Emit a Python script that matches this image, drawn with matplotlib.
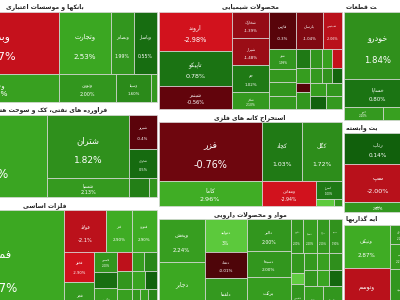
import numpy as np
import matplotlib.pyplot as plt
import matplotlib.colors as mcolors
from matplotlib.patches import Rectangle

# ---- data: per industry, symbol names, daily change (%) and market cap ----
bank_names = ['وبملت', 'وتجارت', 'وبصادر', 'وپاسار', 'وخاور', 'ونوین', 'وسینا', 'وکار']
bank_pct = ['-2.47', '2.53', '1.99', '0.55', '2.31', '2.00', '1.60', '2.10']
bank_cap = [80.5, 33.3, 14.7, 14.7, 35.6, 16.0, 9.8, 1.7]
bank_tree = ('v', [('h', [0, 1, 2, 3]), ('h', [4, 5, 6, 7])])

oil_names = ['شپنا', 'شتران', 'شسپا', 'شبریز', 'شاوان', 'شبهرن', 'شرانل']
oil_pct = ['2.45', '1.82', '2.13', '-0.4', '0.5', '1.2', '2.00']
oil_cap = [98.0, 53.3, 16.4, 9.8, 8.4, 4.0, 1.6]
oil_tree = ('h', [0, ('v', [1, 2]), ('v', [3, 4, ('h', [5, 6])])])

metal_names = ['فملی', 'فولاد', 'فنر', 'فنورد', 'فخوز', 'فجر', 'فاسمین', 'فخاس',
               'فگستر', 'فسپا', 'فسرب', 'فلوله', 'فروی', 'فپنتا', 'فجام', 'فکمند',
               'فاراک', 'فرآور', 'فالوم']
metal_pct = ['2.57', '-2.1', '2.90', '2.90', '-2.90', '2.10', '2.00', '0.60', '2.20',
             '-2.20', '2.00', '2.30', '2.20', '1.50', '2.40', '0.20', '2.10', '2.30', '1.50']
metal_cap = [143.0, 17.2, 10.7, 10.3, 9.0, 11.1, 4.6, 3.7, 7.1, 2.9, 2.7, 4.5,
             2.3, 2.45, 2.4, 2.1, 2.5, 2.5, 2.5]
metal_tree = ('h', [0, ('v', [('h', [1, 2, 3]),
                              ('h', [('v', [4, 5]), ('v', [6, 7, 8]), ('v', [9, 10, 11]),
                                     ('v', [('h', [12, 13]), ('h', [14, 15]), ('h', [16, 17, 18])])])])])

chem_names = ['اروند', 'تاپیکو', 'شبندر', 'شخارک', 'شیراز', 'جم', 'شکلر', 'فارس',
              'پارسان', 'شپدیس', 'شفن', 'شفارس', 'شکربن', 'شاراک', 'شغدیر', 'شصفها',
              'شلعاب', 'شسینا', 'شگل', 'شنفت', 'شملی', 'شاملا', 'شوینده', 'شپاکسا',
              'شجم', 'شرنگی', 'شبصیر', 'شدوص']
chem_pct = ['-2.98', '0.78', '-0.56', '-1.39', '-1.48', '1.02', '2.10', '-0.3',
            '-1.04', '-2.06', '1.99', '2.07', '2.00', '2.10', '1.00', '2.20',
            '2.00', '2.10', '2.30', '1.90', '-2.50', '0.30', '-0.20', '2.00',
            '2.20', '2.00', '0.20', '2.10']
chem_cap = [28.7, 26.6, 17.3, 10.0, 10.3, 10.3, 6.6, 10.0, 10.0, 7.0, 5.5, 3.7, 3.7, 3.7,
            2.7, 2.0, 2.3, 1.75, 1.95, 1.45, 1.95, 1.45, 1.35, 2.4, 2.15, 2.15, 2.15, 2.15]
chem_tree = ('h', [('v', [0, 1, 2]), ('v', [3, 4, 5, 6]),
                   ('v', [('h', [7, 8, 9]),
                          ('h', [('v', [10, 11, 12, 13]),
                                 ('v', [('h', [('v', [14, 15]), ('v', [16, 17]), ('v', [18, 19]), ('v', [20, 21])]),
                                        ('h', [('v', [22, 23]), ('v', [('h', [24, 25]), ('h', [26, 27])])])])])])])

mine_names = ['فزر', 'کچاد', 'کگل', 'کاما', 'ومعادن', 'کسرام', 'کمنگنز', 'کرماشا']
mine_pct = ['-0.76', '1.03', '1.72', '2.96', '-2.94', '1.00', '3.20', '2.00']
mine_cap = [62.4, 24.6, 24.0, 27.0, 14.3, 4.7, 1.4, 0.6]
mine_tree = ('v', [('h', [0, 1, 2]), ('h', [3, 4, ('v', [5, ('h', [6, 7])])])])

drug_names = ['وپخش', 'دجابر', 'دتولید', 'دتماد', 'دلقما', 'دالبر', 'دسبحا', 'برکت',
              'دکوثر', 'دسینا', 'دفارا', 'دعبید', 'دلر', 'دکپسول', 'دشیمی', 'دارو',
              'دکیمی', 'دزهراوی', 'دامین', 'دپارس', 'دتهران', 'دفرا', 'داسوه']
drug_pct = ['2.24', '2.58', '3', '-0.01', '2.10', '2.00', '2.00', '2.20', '2.00', '2.20',
            '2.10', '1.90', '2.05', '3.50', '2.00', '2.10', '2.30', '1.80', '2.00',
            '2.40', '0.40', '2.20', '2.00']
drug_cap = [19.8, 26.5, 14.1, 11.0, 17.6, 14.2, 11.6, 18.5, 4.3, 4.6, 4.3, 4.3, 2.7, 1.5,
            4.8, 2.1, 2.1, 2.1, 2.1, 2.1, 2.1, 6.2, 6.2]
drug_tree = ('h', [('v', [0, 1]), ('v', [2, 3, 4]), ('v', [5, 6, 7]),
                   ('v', [('h', [8, 9, 10, 11]),
                          ('h', [('v', [12, 13, 14]),
                                 ('v', [('h', [15, 16, 17]), ('h', [18, 19, 20]), ('h', [21, 22])])])])])

auto_names = ['خودرو', 'خساپا', 'ختور', 'خکمک']
auto_pct = ['1.84', '0.80', '2.10', '2.30']
auto_cap = [46.9, 19.6, 5.2, 3.9]
auto_tree = ('v', [0, 1, ('h', [2, 3])])

it_names = ['رتاپ', 'سپ', 'رانفور']
it_pct = ['0.14', '-2.00', '2.00']
it_cap = [22.4, 28.0, 7.0]
it_tree = ('v', [0, 1, 2])

inv_names = ['ونیکی', 'وتوسم', 'وصندوق', 'وسپه', 'وامید']
inv_pct = ['2.87', '-2.04', '2.10', '2.20', '2.00']
inv_cap = [20.7, 24.4, 4.6, 5.75, 11.7]
inv_tree = ('h', [('v', [0, 1]), ('v', [2, 3, 4])])

columns = [
    [('بانکها و موسسات اعتباری', bank_names, bank_pct, bank_cap, bank_tree),
     ('فراورده های نفتی، کک و سوخت هسته‌ای', oil_names, oil_pct, oil_cap, oil_tree),
     ('فلزات اساسی', metal_names, metal_pct, metal_cap, metal_tree)],
    [('محصولات شیمیایی', chem_names, chem_pct, chem_cap, chem_tree),
     ('استخراج کانه های فلزی', mine_names, mine_pct, mine_cap, mine_tree),
     ('مواد و محصولات دارویی', drug_names, drug_pct, drug_cap, drug_tree)],
    [('خودرو و ساخت قطعات', auto_names, auto_pct, auto_cap, auto_tree),
     ('رایانه و فعالیت وابسته', it_names, it_pct, it_cap, it_tree),
     ('سرمایه گذاریها', inv_names, inv_pct, inv_cap, inv_tree)],
]

# ---- persian shaping (matplotlib has no bidi / contextual forms) ----
FORMS = {
    'ا': ('\uFE8D', '\uFE8E', None, None), 'آ': ('\uFE81', '\uFE82', None, None),
    'ب': ('\uFE8F', '\uFE90', '\uFE91', '\uFE92'), 'پ': ('\uFB56', '\uFB57', '\uFB58', '\uFB59'),
    'ت': ('\uFE95', '\uFE96', '\uFE97', '\uFE98'), 'ث': ('\uFE99', '\uFE9A', '\uFE9B', '\uFE9C'),
    'ج': ('\uFE9D', '\uFE9E', '\uFE9F', '\uFEA0'), 'چ': ('\uFB7A', '\uFB7B', '\uFB7C', '\uFB7D'),
    'ح': ('\uFEA1', '\uFEA2', '\uFEA3', '\uFEA4'), 'خ': ('\uFEA5', '\uFEA6', '\uFEA7', '\uFEA8'),
    'د': ('\uFEA9', '\uFEAA', None, None), 'ذ': ('\uFEAB', '\uFEAC', None, None),
    'ر': ('\uFEAD', '\uFEAE', None, None), 'ز': ('\uFEAF', '\uFEB0', None, None),
    'ژ': ('\uFB8A', '\uFB8B', None, None),
    'س': ('\uFEB1', '\uFEB2', '\uFEB3', '\uFEB4'), 'ش': ('\uFEB5', '\uFEB6', '\uFEB7', '\uFEB8'),
    'ص': ('\uFEB9', '\uFEBA', '\uFEBB', '\uFEBC'), 'ض': ('\uFEBD', '\uFEBE', '\uFEBF', '\uFEC0'),
    'ط': ('\uFEC1', '\uFEC2', '\uFEC3', '\uFEC4'), 'ظ': ('\uFEC5', '\uFEC6', '\uFEC7', '\uFEC8'),
    'ع': ('\uFEC9', '\uFECA', '\uFECB', '\uFECC'), 'غ': ('\uFECD', '\uFECE', '\uFECF', '\uFED0'),
    'ف': ('\uFED1', '\uFED2', '\uFED3', '\uFED4'), 'ق': ('\uFED5', '\uFED6', '\uFED7', '\uFED8'),
    'ک': ('\uFB8E', '\uFB8F', '\uFB90', '\uFB91'), 'گ': ('\uFB92', '\uFB93', '\uFB94', '\uFB95'),
    'ل': ('\uFEDD', '\uFEDE', '\uFEDF', '\uFEE0'), 'م': ('\uFEE1', '\uFEE2', '\uFEE3', '\uFEE4'),
    'ن': ('\uFEE5', '\uFEE6', '\uFEE7', '\uFEE8'), 'و': ('\uFEED', '\uFEEE', None, None),
    'ه': ('\uFEE9', '\uFEEA', '\uFEEB', '\uFEEC'), 'ی': ('\uFBFC', '\uFBFD', '\uFBFE', '\uFBFF'),
}


def shape(s):
    out = []
    i = 0
    while i < len(s):
        c = s[i]
        if c not in FORMS:
            if c != '\u200c':
                out.append(c)
            i += 1
            continue
        prev = s[i - 1] if i > 0 else None
        pj = prev in FORMS and FORMS[prev][2] is not None
        if c == 'ل' and i + 1 < len(s) and s[i + 1] in 'اآ':
            out.append('\uFEFC' if pj else '\uFEFB')
            i += 2
            continue
        nxt = s[i + 1] if i + 1 < len(s) else None
        nj = nxt in FORMS and FORMS[c][2] is not None
        iso, fin, ini, med = FORMS[c]
        out.append(med if pj and nj else fin if pj else ini if nj else iso)
        i += 1
    return ''.join(reversed(out))


neg_p = [-3.0, -2.0, -1.2, -0.5, 0.0]
neg_c = ['#d3121d', '#b8111b', '#8a0b14', '#5e030b', '#4e0509']
pos_p = [0.0, 0.8, 1.8, 2.5, 2.99, 3.0, 5.0]
pos_c = ['#0f5c0b', '#1b7413', '#2f8f1c', '#3ba722', '#40ad25', '#5cc93c', '#6ad34a']


def tile_color(p):
    ps, cs = (neg_p, neg_c) if p < 0 else (pos_p, pos_c)
    rgb = np.array([mcolors.to_rgb(c) for c in cs])
    return [np.interp(p, ps, rgb[:, k]) for k in range(3)]


def weight(node, caps):
    if isinstance(node, int):
        return caps[node]
    return sum(weight(k, caps) for k in node[1])


def place(node, caps, x, y, w, h, out):
    if isinstance(node, int):
        out[node] = (x, y, w, h)
        return
    d, kids = node
    tot = weight(node, caps)
    for k in kids:
        f = weight(k, caps) / tot
        if d == 'h':
            place(k, caps, x, y, w * f, h, out)
            x += w * f
        else:
            place(k, caps, x, y, w, h * f, out)
            y += h * f


fig = plt.figure(figsize=(4, 3), dpi=100)
ax = fig.add_axes([0, 0, 1, 1])
ax.set_xlim(0, 400)
ax.set_ylim(300, 0)
ax.axis('off')

X0, X1, Y0, Y1 = -68, 413, 0, 320   # full map extent, the picture is a crop of it
HDR, GAP = 11, 1

col_tot = [sum(sum(p[3]) for p in col) for col in columns]
x = X0
for ci, (col, ct) in enumerate(zip(columns, col_tot)):
    cw = (X1 - X0) * ct / sum(col_tot)
    y = Y0
    for title, names, pct, cap, tree in col:
        ph = (Y1 - Y0) * sum(cap) / ct
        px, py, pw, phh = x + GAP, y + GAP, cw - 2 * GAP, ph - 2 * GAP
        ax.add_patch(Rectangle((px, py), pw, HDR, facecolor='white', edgecolor='none'))
        if ci < 2:
            clip = Rectangle((px, py), pw, HDR, transform=ax.transData)
            t = ax.text(px + pw / 2, py + HDR / 2 + 0.5, shape(title), ha='center', va='center',
                        fontsize=4.4, fontweight='bold', color='#222222', clip_on=True)
        else:
            clip = Rectangle((px, py), 33, HDR, transform=ax.transData)
            t = ax.text(px + 2, py + HDR / 2 + 0.5, shape(title), ha='left', va='center',
                        fontsize=4.4, fontweight='bold', color='#222222', clip_on=True)
        t.set_clip_path(clip)
        rects = {}
        place(tree, cap, px, py + HDR, pw, phh - HDR, rects)
        for i, (rx, ry, rw, rh) in rects.items():
            p = float(pct[i])
            ax.add_patch(Rectangle((rx, ry), rw, rh, facecolor=tile_color(p),
                                   edgecolor='#d9d9d9', linewidth=0.5))
            fs = min(8.5, 0.09 * np.sqrt(rw * rh), 0.9 * rw / (0.62 * 1.39 * (len(pct[i]) + 1)))
            if fs < 1.8:
                continue
            ax.text(rx + rw / 2, ry + 0.4 * rh, shape(names[i]), ha='center', va='center',
                    fontsize=fs * 0.95, color='white')
            ax.text(rx + rw / 2, ry + 0.72 * rh, pct[i] + '%', ha='center', va='center',
                    fontsize=fs, color='white')
        y += ph
    x += cw

fig.savefig('out.png', dpi=100, facecolor='white')
